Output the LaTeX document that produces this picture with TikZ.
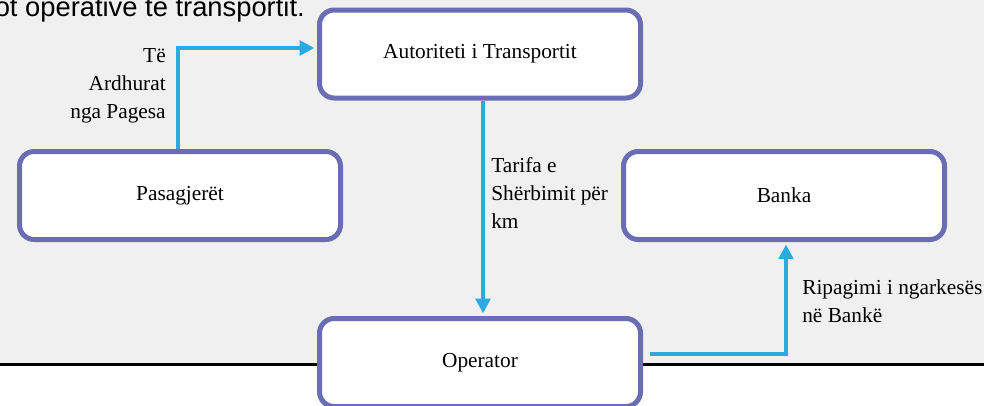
\documentclass[tikz,border=0pt]{standalone}
\usepackage{fontspec}
\setmainfont{Liberation Serif}
\newfontfamily\headfont{Liberation Sans}
\usetikzlibrary{arrows.meta}

\definecolor{boxblue}{RGB}{107,109,180}
\definecolor{flowcyan}{RGB}{41,171,226}
\definecolor{paneltint}{RGB}{240,240,240}

\tikzset{
  party/.style={draw=boxblue, line width=3.75pt, fill=white, rounded corners=11pt,
    minimum width=240.75pt, minimum height=66pt, inner sep=0pt,
    font=\fontsize{16}{21}\selectfont},
  flow/.style={draw=flowcyan, line width=2.6pt, -{Triangle[length=11pt,width=11pt]}},
  tag/.style={font=\fontsize{16}{21}\selectfont, inner sep=0pt}
}

\begin{document}
\begin{tikzpicture}[x=0.75pt, y=-0.75pt]
  \useasboundingbox (0,0) rectangle (984,405);
  \clip (0,0) rectangle (984,405);

  % Panel and rule
  \fill[paneltint] (0,0) rectangle (984,364.5);
  \draw[line width=2.8pt] (0,364.5) -- (984,364.5);

  % Caption, cut off at the top
  \node[anchor=base east, inner sep=0pt, font=\headfont\fontsize{20.5}{24}\selectfont] (caption) at (305,16) {ot operative të transportit.};

  % Parties
  \node[party] (aut) at (480,54) {Autoriteti i Transportit};
  \node[party] (pas) at (180,195.5) {Pasagjerët};
  \node[party] (banka) at (784,195.5) {Banka};
  \node[party] (op) at (480,362.5) {Operator};

  % Flows
  \draw[flow] ([xshift=-1.5pt]pas.north) |- ([xshift=-2pt,yshift=4.5pt]aut.west);
  \draw[flow] ([xshift=2.25pt]aut.south) -- ([xshift=2.25pt,yshift=2pt]op.north);
  \draw[flow] ([xshift=5.6pt,yshift=6.4pt]op.east) -| ([xshift=1.5pt,yshift=-1.9pt]banka.south);

  % Flow labels (base = last line)
  \node[tag, anchor=base east, align=right] (revenue) at (166,118) {Të\\Ardhurat\\nga Pagesa};
  \node[tag, anchor=base west, align=left] (tariff) at (491,228) {Tarifa e\\Shërbimit për\\km};
  \node[tag, anchor=base west, align=left] (repay) at (802,322) {Ripagimi i ngarkesës\\në Bankë};

\end{tikzpicture}
\end{document}
